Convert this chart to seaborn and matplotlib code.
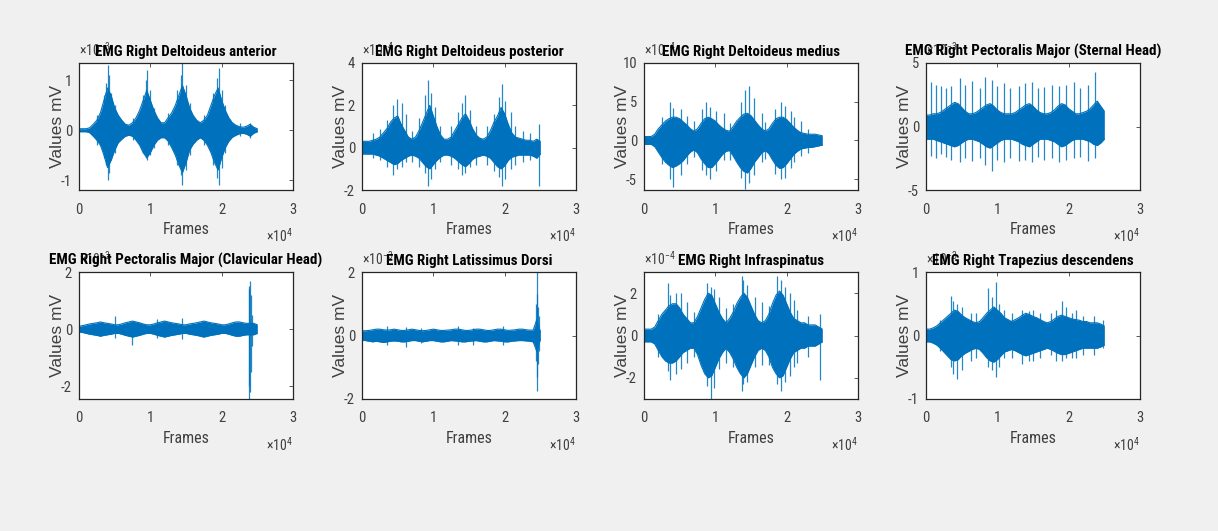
import numpy as np
import pandas as pd
import matplotlib
matplotlib.use("Agg")
import matplotlib.pyplot as plt
import seaborn as sns

# envelope sample positions (frames), every 500 frames
frames = list(range(0, 25001, 500))

titles = ['EMG Right Deltoideus anterior', 'EMG Right Deltoideus posterior',
          'EMG Right Deltoideus medius', 'EMG Right Pectoralis Major (Sternal Head)',
          'EMG Right Pectoralis Major (Clavicular Head)', 'EMG Right Latissimus Dorsi',
          'EMG Right Infraspinatus', 'EMG Right Trapezius descendens']
exponents = [-3, -4, -4, -3, -3, -3, -4, -3]
ylims = [(-1.2, 1.35), (-2, 4), (-6.4, 10), (-5, 5), (-2.45, 2), (-2, 2), (-3, 3), (-1, 1)]
yticks = [[-1, 0, 1], [-2, 0, 2, 4], [-5, 0, 5, 10], [-5, 0, 5],
          [-2, 0, 2], [-2, 0, 2], [-2, 0, 2], [-1, 0, 1]]

# upper / lower envelope of each signal (scaled units)
up1 = [0.03, 0.03, 0.03, 0.05, 0.12, 0.2, 0.35, 0.6, 0.85, 0.7, 0.45, 0.3, 0.2, 0.12, 0.1, 0.15, 0.25, 0.4, 0.6, 0.8,
       0.6, 0.4, 0.25, 0.15, 0.15, 0.25, 0.35, 0.5, 0.7, 0.9, 0.7, 0.45, 0.3, 0.2, 0.15, 0.2, 0.3, 0.5, 0.7, 0.85,
       0.6, 0.4, 0.25, 0.15, 0.1, 0.07, 0.06, 0.08, 0.12, 0.06, 0.03]
lo1 = [-0.03, -0.03, -0.03, -0.05, -0.12, -0.2, -0.3, -0.5, -0.75, -0.6, -0.4, -0.25, -0.18, -0.12, -0.1, -0.12, -0.2,
       -0.3, -0.45, -0.55, -0.45, -0.3, -0.2, -0.15, -0.15, -0.22, -0.35, -0.5, -0.7, -0.85, -0.65, -0.4, -0.28, -0.2,
       -0.15, -0.2, -0.3, -0.45, -0.65, -0.8, -0.55, -0.35, -0.22, -0.14, -0.1, -0.07, -0.06, -0.08, -0.12, -0.06, -0.03]
up2 = [0.3, 0.3, 0.3, 0.35, 0.4, 0.5, 0.7, 0.9, 1.2, 1.4, 1.5, 1.1, 0.8, 0.5, 0.4, 0.5, 0.8, 1.2, 1.6, 2.0,
       1.5, 1.0, 0.6, 0.4, 0.4, 0.5, 0.8, 1.1, 1.4, 1.6, 1.3, 0.9, 0.6, 0.45, 0.4, 0.5, 0.8, 1.2, 1.5, 1.9,
       1.6, 1.1, 0.7, 0.5, 0.45, 0.4, 0.35, 0.35, 0.3, 0.4, 0.3]
lo2 = [-0.3, -0.3, -0.3, -0.3, -0.35, -0.4, -0.5, -0.6, -0.7, -0.8, -0.75, -0.6, -0.5, -0.4, -0.35, -0.4, -0.5, -0.7,
       -0.9, -1.0, -0.8, -0.6, -0.45, -0.35, -0.35, -0.4, -0.5, -0.65, -0.8, -0.9, -0.75, -0.55, -0.45, -0.4, -0.35,
       -0.4, -0.5, -0.7, -0.9, -1.0, -0.85, -0.6, -0.45, -0.4, -0.35, -0.35, -0.35, -0.35, -0.4, -0.5, -0.3]
up3 = [0.5, 0.5, 0.5, 0.8, 1.5, 2.0, 2.5, 2.8, 3.0, 3.0, 2.8, 2.4, 2.0, 1.5, 1.2, 1.5, 2.2, 2.8, 3.0, 2.8,
       2.5, 2.0, 1.6, 1.3, 1.2, 1.8, 2.5, 3.0, 3.4, 3.5, 3.2, 2.6, 2.0, 1.5, 1.2, 1.5, 2.2, 2.8, 3.0, 3.0,
       2.7, 2.2, 1.7, 1.3, 1.0, 0.9, 0.8, 0.8, 0.8, 0.7, 0.6]
lo3 = [-0.5, -0.5, -0.5, -0.8, -1.5, -2.2, -2.8, -3.2, -3.5, -3.3, -3.0, -2.6, -2.0, -1.5, -1.2, -1.6, -2.4, -3.0,
       -3.5, -3.5, -3.0, -2.4, -1.8, -1.4, -1.3, -2.0, -2.8, -3.5, -4.0, -4.2, -3.6, -2.8, -2.2, -1.6, -1.3, -1.7,
       -2.5, -3.2, -3.6, -3.5, -3.0, -2.4, -1.8, -1.4, -1.1, -1.0, -0.9, -0.9, -0.8, -0.7, -0.6]
up4 = [0.9, 0.9, 1.0, 1.0, 1.1, 1.3, 1.5, 1.7, 1.9, 1.8, 1.5, 1.2, 1.0, 1.0, 1.1, 1.3, 1.5, 1.7, 1.8, 1.6,
       1.3, 1.1, 1.0, 1.0, 1.0, 1.1, 1.3, 1.5, 1.7, 1.8, 1.6, 1.3, 1.1, 1.0, 1.0, 1.1, 1.3, 1.6, 1.8, 1.7,
       1.4, 1.2, 1.0, 1.0, 1.1, 1.2, 1.4, 1.7, 2.0, 1.6, 1.2]
lo4 = [-1.0, -1.0, -1.0, -1.1, -1.2, -1.3, -1.4, -1.5, -1.6, -1.5, -1.3, -1.1, -1.0, -1.0, -1.1, -1.2, -1.4, -1.6,
       -1.7, -1.5, -1.3, -1.1, -1.0, -1.0, -1.0, -1.1, -1.2, -1.4, -1.5, -1.6, -1.4, -1.2, -1.0, -1.0, -1.0, -1.1,
       -1.2, -1.4, -1.6, -1.5, -1.3, -1.1, -1.0, -1.0, -1.0, -1.1, -1.2, -1.4, -1.5, -1.3, -1.0]
up5 = [0.1, 0.12, 0.15, 0.18, 0.2, 0.22, 0.25, 0.22, 0.2, 0.18, 0.15, 0.15, 0.18, 0.22, 0.25, 0.28, 0.25, 0.22,
       0.18, 0.15, 0.15, 0.18, 0.22, 0.25, 0.28, 0.25, 0.22, 0.2, 0.18, 0.15, 0.15, 0.18, 0.2, 0.22, 0.25, 0.28,
       0.25, 0.22, 0.2, 0.18, 0.15, 0.15, 0.18, 0.22, 0.25, 0.25, 0.22, 0.2, 0.2, 0.2, 0.15]
lo5 = [-0.1, -0.12, -0.15, -0.18, -0.2, -0.22, -0.25, -0.22, -0.2, -0.18, -0.15, -0.15, -0.18, -0.22, -0.25, -0.28,
       -0.25, -0.22, -0.18, -0.15, -0.15, -0.18, -0.22, -0.25, -0.28, -0.25, -0.22, -0.2, -0.18, -0.15, -0.15, -0.18,
       -0.2, -0.22, -0.25, -0.28, -0.25, -0.22, -0.2, -0.18, -0.15, -0.15, -0.18, -0.22, -0.25, -0.25, -0.22, -0.2,
       -0.2, -0.2, -0.15]
up6 = [0.15, 0.15, 0.16, 0.18, 0.2, 0.2, 0.18, 0.17, 0.18, 0.2, 0.18, 0.16, 0.16, 0.18, 0.2, 0.18, 0.16, 0.15,
       0.16, 0.18, 0.2, 0.18, 0.16, 0.16, 0.17, 0.18, 0.2, 0.2, 0.18, 0.16, 0.16, 0.18, 0.2, 0.2, 0.18, 0.16,
       0.16, 0.18, 0.2, 0.2, 0.18, 0.16, 0.17, 0.18, 0.2, 0.2, 0.18, 0.17, 0.17, 0.5, 0.12]
lo6 = [-0.15, -0.16, -0.18, -0.2, -0.18, -0.2, -0.22, -0.2, -0.18, -0.17, -0.18, -0.2, -0.2, -0.18, -0.16, -0.16,
       -0.18, -0.2, -0.18, -0.16, -0.16, -0.18, -0.2, -0.2, -0.18, -0.16, -0.17, -0.18, -0.2, -0.2, -0.18, -0.17,
       -0.16, -0.18, -0.2, -0.2, -0.18, -0.16, -0.17, -0.18, -0.2, -0.2, -0.18, -0.17, -0.16, -0.16, -0.17, -0.18,
       -0.2, -0.5, -0.12]
up7 = [0.3, 0.3, 0.3, 0.4, 0.7, 1.0, 1.2, 1.4, 1.5, 1.5, 1.3, 1.0, 0.8, 0.6, 0.6, 0.9, 1.3, 1.7, 2.0, 1.9,
       1.5, 1.1, 0.8, 0.6, 0.8, 1.1, 1.5, 1.8, 2.0, 1.8, 1.4, 1.0, 0.7, 0.6, 0.7, 1.0, 1.5, 1.9, 2.1, 1.9,
       1.5, 1.1, 0.8, 0.7, 0.6, 0.6, 0.5, 0.5, 0.5, 0.4, 0.3]
lo7 = [-0.3, -0.3, -0.3, -0.4, -0.7, -1.0, -1.2, -1.3, -1.3, -1.2, -1.0, -0.8, -0.7, -0.6, -0.6, -0.9, -1.4, -1.8,
       -2.0, -1.9, -1.5, -1.1, -0.8, -0.6, -0.8, -1.1, -1.5, -1.8, -2.0, -1.8, -1.4, -1.0, -0.7, -0.6, -0.7, -1.0,
       -1.5, -1.8, -2.0, -1.9, -1.5, -1.1, -0.8, -0.7, -0.6, -0.6, -0.5, -0.5, -0.5, -0.4, -0.3]
up8 = [0.1, 0.1, 0.12, 0.15, 0.2, 0.25, 0.3, 0.35, 0.4, 0.38, 0.32, 0.28, 0.25, 0.22, 0.2, 0.22, 0.28, 0.35,
       0.4, 0.45, 0.4, 0.35, 0.28, 0.25, 0.22, 0.25, 0.28, 0.32, 0.35, 0.33, 0.3, 0.28, 0.25, 0.22, 0.2, 0.22,
       0.26, 0.3, 0.32, 0.3, 0.28, 0.26, 0.25, 0.24, 0.22, 0.22, 0.2, 0.2, 0.2, 0.18, 0.15]
lo8 = [-0.1, -0.1, -0.12, -0.15, -0.2, -0.26, -0.32, -0.38, -0.4, -0.38, -0.32, -0.28, -0.25, -0.22, -0.2, -0.22,
       -0.28, -0.35, -0.4, -0.42, -0.38, -0.32, -0.26, -0.24, -0.22, -0.24, -0.27, -0.3, -0.32, -0.3, -0.28, -0.26,
       -0.24, -0.22, -0.2, -0.22, -0.25, -0.28, -0.3, -0.3, -0.28, -0.26, -0.24, -0.22, -0.2, -0.2, -0.2, -0.2,
       -0.2, -0.18, -0.15]

# isolated spikes: frame, peak above, peak below
sx1 = [2500, 3500, 3800, 4000, 4200, 4500, 5000, 7500, 9000, 9400, 9600, 10000, 10500, 12500, 13800,
       14300, 14500, 15000, 15500, 17500, 18800, 19400, 19600, 20000, 20500, 22500, 24000]
sh1 = [0.3, 0.7, 0.95, 1.3, 1.1, 0.75, 0.5, 0.25, 0.7, 1.0, 1.2, 0.8, 0.45, 0.35, 0.8,
       1.1, 1.35, 0.9, 0.55, 0.3, 0.75, 1.05, 1.25, 0.8, 0.5, 0.15, 0.15]
sl1 = [-0.3, -0.55, -0.7, -1.0, -0.85, -0.6, -0.45, -0.2, -0.45, -0.55, -0.6, -0.5, -0.35, -0.3, -0.7,
       -0.9, -1.1, -0.8, -0.5, -0.3, -0.7, -0.95, -1.1, -0.75, -0.45, -0.12, -0.15]
sx2 = [1500, 2500, 3500, 4300, 4900, 5600, 6100, 7000, 8000, 8900, 9300, 9700, 10300, 11000, 12500,
       13500, 14000, 14400, 15200, 16000, 17500, 18500, 19200, 19600, 20000, 20900, 21500, 22500, 23500, 24800]
sh2 = [0.7, 0.9, 1.3, 2.0, 2.3, 2.1, 1.6, 0.8, 1.4, 2.5, 3.2, 2.6, 1.9, 1.0, 1.0,
       1.7, 2.1, 2.5, 1.8, 1.0, 1.0, 1.6, 2.4, 3.0, 2.2, 1.7, 1.0, 0.8, 0.7, 1.1]
sl2 = [-0.5, -0.6, -0.9, -1.3, -1.0, -0.9, -0.7, -0.7, -0.9, -1.2, -1.8, -1.5, -1.0, -0.7, -0.8,
       -1.0, -1.3, -1.2, -0.9, -0.8, -0.8, -1.1, -1.4, -1.8, -1.5, -1.0, -0.8, -0.7, -0.6, -1.8]
sx3 = [2500, 3600, 4100, 5200, 6000, 7000, 8200, 8700, 9200, 10100, 11200, 12000, 13600,
       14200, 14700, 15400, 16500, 17000, 18300, 19200, 19800, 20600, 21000, 22000, 23000]
sh3 = [3.0, 5.0, 4.2, 4.0, 3.2, 2.5, 4.0, 5.0, 4.3, 3.8, 3.5, 2.3, 5.0,
       6.5, 7.0, 5.5, 3.5, 2.4, 4.0, 5.0, 4.5, 3.8, 3.0, 2.5, 1.5]
sl3 = [-3.0, -5.0, -6.0, -4.5, -3.0, -2.2, -3.8, -4.5, -5.0, -4.0, -2.5, -2.5, -4.8,
       -6.3, -5.5, -4.5, -2.8, -2.4, -4.3, -5.0, -4.8, -3.5, -2.8, -2.0, -1.6]
sx4 = [700, 1400, 2100, 2800, 3500, 4700, 5500, 6500, 7500, 8300, 9300, 10000, 11000, 11800, 13000,
       13900, 14800, 15700, 16600, 17600, 18700, 19600, 20700, 21600, 22700, 23700]
sh4 = [3.5, 3.3, 3.2, 3.0, 3.2, 3.8, 3.3, 3.6, 3.0, 3.9, 3.7, 3.2, 3.4, 3.0, 3.2,
       3.4, 3.5, 3.0, 3.1, 3.3, 3.2, 3.3, 3.5, 3.0, 3.3, 4.3]
sl4 = [-2.3, -2.5, -2.2, -2.4, -2.6, -2.8, -2.5, -2.7, -2.5, -3.0, -3.5, -2.6, -2.8, -2.5, -2.7,
       -2.6, -2.8, -2.4, -2.6, -2.5, -2.8, -2.6, -2.5, -2.4, -2.7, -2.5]
sx5 = [5000, 7400, 11000, 14500, 23800, 23900, 24000, 24100, 24200]
sh5 = [0.45, 0.2, 0.35, 0.4, 1.4, 1.5, 1.7, 1.2, 0.5]
sl5 = [-0.3, -0.55, -0.3, -0.35, -2.0, -2.45, -2.2, -1.5, -0.6]
sx6 = [3500, 6200, 8300, 13400, 15500, 19800, 24400, 24500, 24600, 24700, 24800]
sh6 = [0.3, 0.28, 0.25, 0.3, 0.25, 0.3, 1.0, 2.0, 1.3, 0.9, 0.6]
sl6 = [-0.3, -0.35, -0.25, -0.3, -0.3, -0.3, -0.8, -1.75, -1.3, -0.9, -0.5]
sx7 = [2000, 3400, 3600, 4500, 5200, 6000, 7000, 8800, 9400, 9800, 10500, 11500, 12500, 13700,
       13900, 14400, 15500, 16500, 17500, 18700, 19200, 19800, 20500, 21000, 21500, 23000, 24700]
sh7 = [1.0, 2.5, 1.9, 2.0, 2.0, 1.6, 1.1, 2.5, 2.3, 2.2, 1.8, 1.3, 1.5, 2.8,
       2.6, 2.4, 1.8, 1.6, 1.4, 2.8, 2.6, 2.3, 2.0, 1.7, 1.2, 0.9, 1.0]
sl7 = [-1.0, -1.7, -2.1, -1.8, -1.6, -1.3, -1.0, -2.4, -3.0, -2.5, -1.6, -1.3, -1.5, -2.6,
       -2.3, -2.2, -1.5, -1.4, -1.4, -2.3, -2.6, -2.2, -1.9, -1.5, -1.3, -1.0, -2.1]
sx8 = [2000, 3500, 3800, 4300, 5000, 6300, 7000, 8700, 9200, 9800, 10300, 11000, 12000,
       13500, 14500, 15000, 16000, 17500, 18200, 19000, 19600, 20500, 21000, 22000, 23500, 24800]
sh8 = [0.25, 0.62, 0.55, 0.5, 0.45, 0.35, 0.35, 0.75, 0.6, 0.85, 0.5, 0.4, 0.35,
       0.4, 0.38, 0.4, 0.35, 0.35, 0.4, 0.55, 0.45, 0.35, 0.4, 0.3, 0.3, 0.25]
sl8 = [-0.25, -0.5, -0.6, -0.68, -0.55, -0.4, -0.35, -0.5, -0.55, -0.65, -0.5, -0.35, -0.35,
       -0.45, -0.4, -0.4, -0.35, -0.3, -0.4, -0.4, -0.35, -0.35, -0.35, -0.3, -0.3, -0.2]

uppers = [up1, up2, up3, up4, up5, up6, up7, up8]
lowers = [lo1, lo2, lo3, lo4, lo5, lo6, lo7, lo8]
spike_x = [sx1, sx2, sx3, sx4, sx5, sx6, sx7, sx8]
spike_hi = [sh1, sh2, sh3, sh4, sh5, sh6, sh7, sh8]
spike_lo = [sl1, sl2, sl3, sl4, sl5, sl6, sl7, sl8]

sns.set_theme(style='white')
plt.rcParams['font.family'] = ['Roboto Condensed', 'DejaVu Sans']
plt.rcParams['mathtext.fontset'] = 'custom'
plt.rcParams['mathtext.rm'] = 'Roboto Condensed'
plt.rcParams['mathtext.it'] = 'Roboto Condensed'

blue = '#0072BD'
dark = '#262626'
grey = '#404040'
bg = '#f0f0f0'

fig = plt.figure(figsize=(12.18, 5.31), dpi=100, facecolor=bg)

lefts = [79, 362, 644, 926]
tops = [63, 272]
W, H = 1218, 531
aw, ah = 214, 127

for i in range(8):
    r, c = divmod(i, 4)
    ax = fig.add_axes([lefts[c] / W, 1 - (tops[r] + ah) / H, aw / W, ah / H])
    ax.set_facecolor('white')

    env = pd.DataFrame({'Frames': frames, 'upper': uppers[i], 'lower': lowers[i]})
    ax.fill_between(env['Frames'], env['lower'], env['upper'], color=blue, lw=0)
    sns.lineplot(data=env, x='Frames', y='upper', ax=ax, color=blue, lw=0.8)
    sns.lineplot(data=env, x='Frames', y='lower', ax=ax, color=blue, lw=0.8)
    ax.vlines(spike_x[i], spike_lo[i], spike_hi[i], color=blue, lw=0.9, alpha=0.85)

    ax.set_xlim(0, 30000)
    ax.set_ylim(*ylims[i])
    ax.set_xticks([0, 10000, 20000, 30000])
    ax.set_xticklabels(['0', '1', '2', '3'])
    ax.set_yticks(yticks[i])
    ax.set_yticklabels([str(t) for t in yticks[i]])
    ax.tick_params(direction='in', length=3, width=0.6, colors=grey, labelsize=10.5,
                   top=True, right=True, pad=5)
    ax.tick_params(axis='x', pad=9)
    for s in ax.spines.values():
        s.set_color(dark)
        s.set_linewidth(0.9)
        s.set_visible(True)

    ax.set_xlabel('Frames', fontsize=11.5, color=grey)
    ax.xaxis.set_label_coords(0.5, -0.25)
    ax.set_ylabel('Values mV', fontsize=12.5, color=grey, family='Liberation Sans')
    ax.yaxis.set_label_coords(-0.065, 0.5)
    ax.text(1.0, -0.29, r'$\times10^{4}$', transform=ax.transAxes, ha='right', va='top',
            fontsize=10, color=grey)
    ax.text(0.0, 1.03, r'$\times10^{%d}$' % exponents[i], transform=ax.transAxes, ha='left',
            va='bottom', fontsize=10, color=grey, zorder=1)
    ax.set_title(titles[i], fontsize=10.8, fontweight='bold', color='black', pad=5, zorder=5)

fig.savefig('out.png', dpi=100, facecolor=bg)
